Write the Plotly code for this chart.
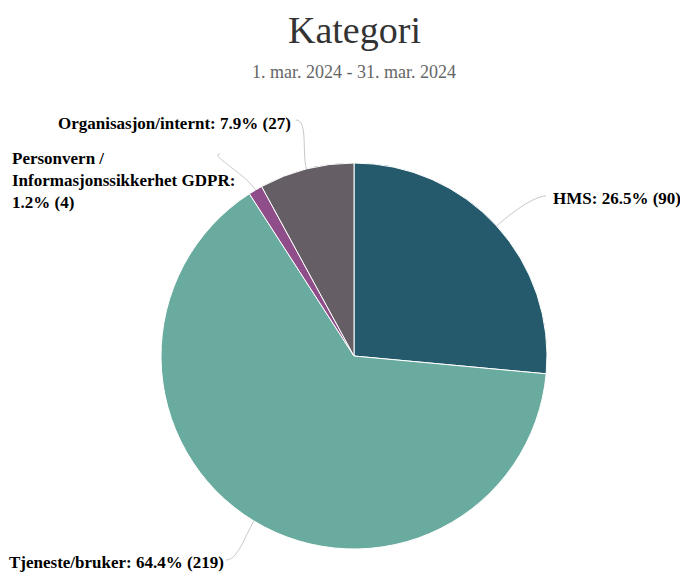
import math
import plotly.graph_objects as go

# Incident categories, March 2024
categories = ["HMS", "Tjeneste/bruker", "Personvern / Informasjonssikkerhet GDPR", "Organisasjon/internt"]
label_names = ["HMS:", "Tjeneste/bruker:", "Personvern /<br>Informasjonssikkerhet GDPR:<br>", "Organisasjon/internt:"]
counts = [90, 219, 4, 27]
colors = ["#255a6d", "#6aab9f", "#8f4d8a", "#655f65"]

title_text = "Kategori"
subtitle_text = "1. mar. 2024 - 31. mar. 2024"

W, H = 680, 572
CX, CY, R = 354, 356, 193  # pie centre and radius in pixels

# label placement: (anchor x, anchor y, side) in pixels
label_pos = [
    (551, 198, "left"),
    (226, 562, "right"),
    (10, 180, "left"),
    (293, 124, "right"),
]
# where each connector meets its label
connector_end = [
    (546, 196),
    (226, 560),
    (220, 154),
    (296, 120),
]

SERIF = "Liberation Serif"
total = sum(counts)

fig = go.Figure(go.Pie(
    labels=categories,
    values=counts,
    marker=dict(colors=colors, line=dict(color="white", width=1)),
    sort=False,
    direction="clockwise",
    rotation=0,
    textinfo="none",
    hoverinfo="label+value+percent",
    showlegend=False,
    domain=dict(x=[(CX - R) / W, (CX + R) / W], y=[1 - (CY + R) / H, 1 - (CY - R) / H]),
))


def to_paper(px, py):
    return px / W, 1 - py / H


annotations = []
shapes = []
start = 0.0
for i, v in enumerate(counts):
    frac = v / total
    mid = start + frac / 2
    start += frac
    ang = math.radians(90 - mid * 360)
    ex, ey = CX + R * math.cos(ang), CY - R * math.sin(ang)
    c1x, c1y = CX + (R + 18) * math.cos(ang), CY - (R + 18) * math.sin(ang)
    tx, ty = connector_end[i]
    side = label_pos[i][2]
    c2x = tx - 12 if side == "left" else tx + 12
    p = [to_paper(ex, ey), to_paper(c1x, c1y), to_paper(c2x, ty), to_paper(tx, ty)]
    path = "M {} {} C {} {}, {} {}, {} {}".format(*[c for pt in p for c in pt])
    shapes.append(dict(type="path", path=path, xref="paper", yref="paper",
                       line=dict(color="#c8c8c8", width=1)))
    pct = 100 * frac
    name = label_names[i]
    sep = "" if name.endswith("<br>") else " "
    text = "<b>{}{}{:.1f}% ({})</b>".format(name, sep, pct, v)
    lx, ly = to_paper(label_pos[i][0], label_pos[i][1])
    annotations.append(dict(
        x=lx, y=ly, xref="paper", yref="paper", text=text, showarrow=False,
        xanchor=side, yanchor="middle", align="left",
        font=dict(family=SERIF, size=17, color="#000000"),
    ))

# title and subtitle
tx_, ty_ = to_paper(354, 30)
annotations.append(dict(x=tx_, y=ty_, xref="paper", yref="paper", text=title_text,
                        showarrow=False, xanchor="center", yanchor="middle",
                        font=dict(family=SERIF, size=38, color="#333333")))
sx_, sy_ = to_paper(354, 72)
annotations.append(dict(x=sx_, y=sy_, xref="paper", yref="paper", text=subtitle_text,
                        showarrow=False, xanchor="center", yanchor="middle",
                        font=dict(family=SERIF, size=18, color="#666666")))

fig.update_layout(
    width=W, height=H,
    margin=dict(l=0, r=0, t=0, b=0),
    paper_bgcolor="white",
    annotations=annotations,
    shapes=shapes,
)

fig.write_html("out.html")
